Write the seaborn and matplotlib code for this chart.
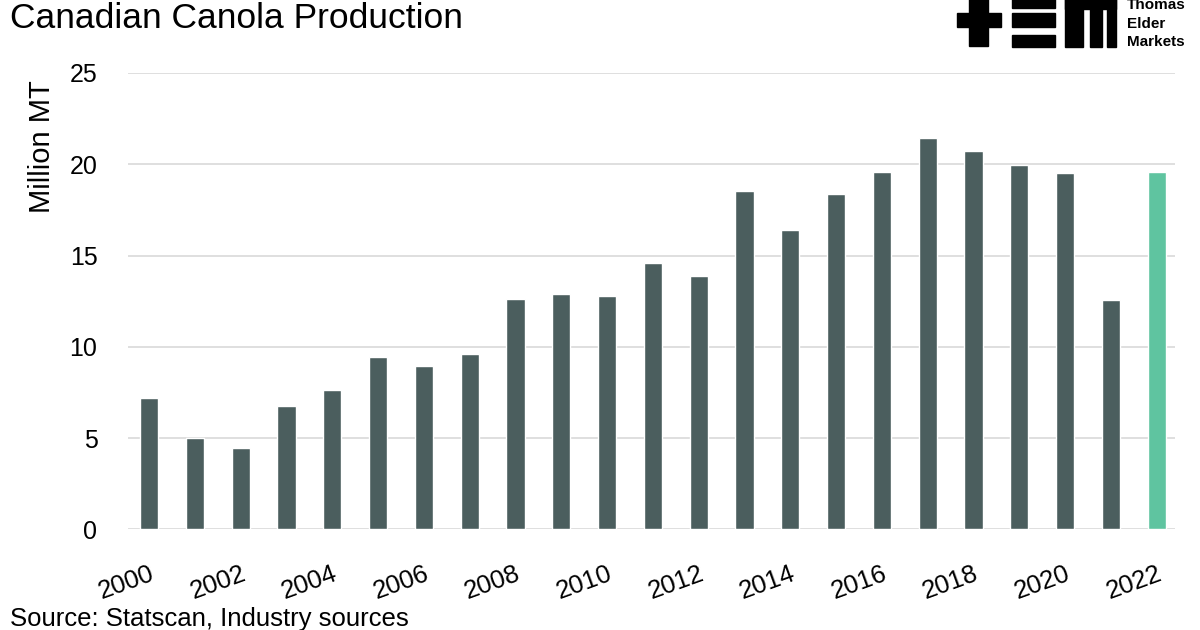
import matplotlib
matplotlib.use("Agg")
import matplotlib.pyplot as plt
from matplotlib.patches import Rectangle
import seaborn as sns
import pandas as pd

years = [str(y) for y in range(2000, 2023)]
production = [7.18, 4.99, 4.47, 6.74, 7.65, 9.46, 8.97, 9.59, 12.64, 12.88, 12.78,
              14.59, 13.86, 18.55, 16.40, 18.39, 19.60, 21.45, 20.73, 19.95, 19.51,
              12.58, 19.60]
yticks = [0, 5, 10, 15, 20, 25]
title = "Canadian Canola Production"
ylabel = "Million MT"
source = "Source: Statscan, Industry sources"

dark = "#4b5e5e"
green = "#5fc4a0"
colors = [dark] * (len(years) - 1) + [green]

sns.set_theme(style="white")
plt.rcParams["font.family"] = ["Liberation Sans", "DejaVu Sans"]

fig = plt.figure(figsize=(12, 6.3), dpi=100)
ax = fig.add_axes([128 / 1200, 1 - 529.3 / 630, (1175 - 128) / 1200, (529.3 - 73) / 630])

df = pd.DataFrame({"year": years, "value": production})
sns.barplot(data=df, x="year", y="value", hue="year", palette=colors,
            legend=False, width=0.4, ax=ax, saturation=1)

ax.set_ylim(0, 25)
ax.set_xlim(-0.46, 22.4)
ax.set_yticks(yticks)
ax.yaxis.grid(True, color="#d9d9d9", linewidth=1.2)
ax.set_axisbelow(True)
for s in ax.spines.values():
    s.set_visible(False)
ax.set_xlabel("")
ax.set_ylabel("")
ax.tick_params(axis="y", labelsize=18, pad=22, length=0, labelcolor="black")
even_pos = list(range(0, len(years), 2))
ax.set_xticks(even_pos)
ax.set_xticklabels([years[i] for i in even_pos], rotation=20, ha="right",
                   rotation_mode="anchor", fontsize=18.5)
ax.tick_params(axis="x", length=0, pad=23, labelcolor="black")

fig.text(10 / 1200, 1 - 18 / 630, title, fontsize=25.5, va="center", ha="left", color="black")
fig.text(42 / 1200, 1 - 147 / 630, ylabel, fontsize=21, rotation=90, va="center", ha="center", color="black")
fig.text(10 / 1200, 1 - 619 / 630, source, fontsize=18.5, va="center", ha="left", color="black")

# logo
def px_rect(x0, y0, x1, y1):
    fig.patches.append(Rectangle((x0 / 1200, 1 - y1 / 630), (x1 - x0) / 1200, (y1 - y0) / 630,
                                 transform=fig.transFigure, color="black", zorder=5))

px_rect(957, 13, 1001, 27)
px_rect(969, -2, 988, 46)
px_rect(1012, -2, 1055, 8)
px_rect(1012, 13, 1055, 27)
px_rect(1012, 35, 1055, 47)
px_rect(1065, -2, 1116, 9)
px_rect(1065, -2, 1083, 47)
px_rect(1090, -2, 1102, 47)
px_rect(1107, -2, 1116, 47)
for i, t in enumerate(["Thomas", "Elder", "Markets"]):
    fig.text(1127 / 1200, 1 - (5 + i * 18.5) / 630, t, fontsize=11, fontweight="bold",
             va="center", ha="left", color="black")

fig.savefig("out.png", dpi=100, facecolor="white")
